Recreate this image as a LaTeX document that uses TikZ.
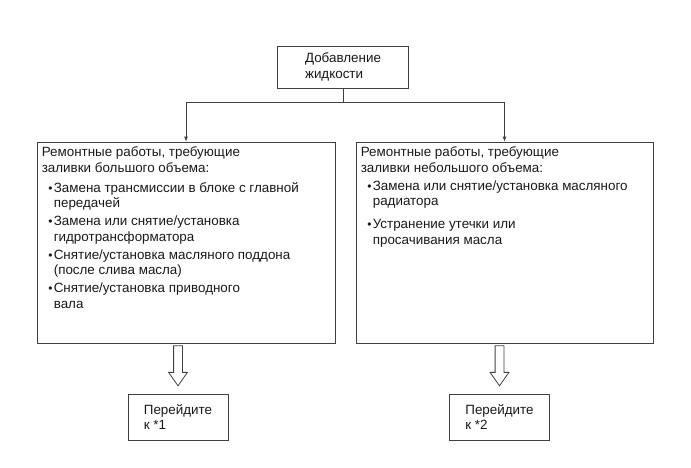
\documentclass[tikz,border=0pt]{standalone}
\usepackage{fontspec}
\setmainfont{Liberation Sans}
\usetikzlibrary{arrows.meta,shapes.arrows}

\newcommand\bul{\makebox[12pt][l]{\hspace{6.5pt}{\fontsize{12}{12}\selectfont •}}}
\newcommand\ind{\hspace*{12pt}}

\begin{document}
\begin{tikzpicture}[
    x=1pt, y=-1pt,
    every node/.style={font=\fontsize{13.4}{15.5}\selectfont, text=black!90},
    frame/.style={
      draw=black!75,
      line width=0.8pt,
      inner sep=0pt
    },
    fillbox/.style={frame, minimum width=298pt, minimum height=201pt},
    gobox/.style={frame, minimum width=100pt, minimum height=46pt, align=left},
    itemtext/.style={align=left, anchor=north west, inner sep=0pt},
    link/.style={draw=black!75, line width=0.8pt},
    hollow/.style={
      single arrow,
      draw=black!75,
      line width=0.8pt,
      rotate=-90,
      minimum width=18pt,
      minimum height=40pt,
      inner sep=4pt,
      single arrow head extend=5pt,
      single arrow tip angle=70
    }
  ]
    \useasboundingbox (0,0) rectangle (691,467);

    \node[frame, minimum width=131pt, minimum height=42pt, align=left] (add) at (343,67) {Добавление\\жидкости};

    \node[fillbox] (leftbox) at (186,242.5) {};
    \node[fillbox, minimum width=297pt] (rightbox) at (504.5,242.5) {};

    \node[itemtext] (lefttext) at ([shift={(5pt,-5pt)}]leftbox.north west) {%
      Ремонтные работы, требующие\\
      заливки большого объема:\\[4.5pt]
      \bul Замена трансмиссии в блоке с главной\\
      \ind передачей\\[2.5pt]
      \bul Замена или снятие/установка\\
      \ind гидротрансформатора\\[2.5pt]
      \bul Снятие/установка масляного поддона\\
      \ind (после слива масла)\\[2.5pt]
      \bul Снятие/установка приводного\\
      \ind вала};
    \node[itemtext] (righttext) at ([shift={(5pt,-5pt)}]rightbox.north west) {%
      Ремонтные работы, требующие\\
      заливки небольшого объема:\\[2.5pt]
      \bul Замена или снятие/установка масляного\\
      \ind радиатора\\[7.5pt]
      \bul Устранение утечки или\\
      \ind просачивания масла};

    % split line from the top box
    \coordinate (split) at ([yshift=-14pt]add.south);
    \draw[link] (add.south) -- (split);
    \draw[link, -{Latex[length=5pt,width=4pt]}] (split) -| (leftbox.north);
    \draw[link, -{Latex[length=5pt,width=4pt]}] (split) -| (rightbox.north);

    % go to boxes
    \node[hollow, anchor=tail] (leftarrow) at ([shift={(-8pt,-2pt)}]leftbox.south) {};
    \node[hollow, anchor=tail] (rightarrow) at ([shift={(-5pt,-2pt)}]rightbox.south) {};
    \node[gobox, anchor=north] (goone) at ([yshift=-7pt]leftarrow.tip) {Перейдите\\к *1};
    \node[gobox, anchor=north] (gotwo) at ([yshift=-7pt]rightarrow.tip) {Перейдите\\к *2};
  \end{tikzpicture}
\end{document}
